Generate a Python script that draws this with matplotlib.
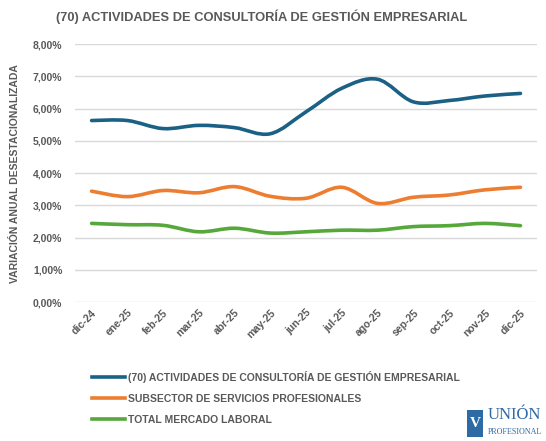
import numpy as np
import matplotlib
matplotlib.use("Agg")
import matplotlib.pyplot as plt
from matplotlib.path import Path
from matplotlib.patches import PathPatch, Rectangle
from matplotlib.lines import Line2D
from matplotlib.ticker import FuncFormatter

# datos
meses = ["dic-24", "ene-25", "feb-25", "mar-25", "abr-25", "may-25", "jun-25",
         "jul-25", "ago-25", "sep-25", "oct-25", "nov-25", "dic-25"]
consultoria = [5.63, 5.63, 5.38, 5.48, 5.41, 5.22, 5.90, 6.63, 6.91, 6.21, 6.25, 6.39, 6.47]
servicios = [3.44, 3.27, 3.46, 3.39, 3.58, 3.28, 3.22, 3.56, 3.06, 3.25, 3.32, 3.48, 3.56]
total = [2.44, 2.40, 2.38, 2.18, 2.29, 2.14, 2.18, 2.23, 2.23, 2.34, 2.37, 2.44, 2.37]

nombres = ["(70) ACTIVIDADES DE CONSULTORÍA DE GESTIÓN EMPRESARIAL",
           "SUBSECTOR DE SERVICIOS PROFESIONALES",
           "TOTAL MERCADO LABORAL"]
colores = ["#1B6185", "#ED7D31", "#56A83A"]

gris = "#595959"
plt.rcParams["font.family"] = ["Liberation Sans", "DejaVu Sans"]


def curva_suave(ax, xs, ys, color):
    # linea suavizada tipo Excel (bezier con tangentes catmull-rom)
    pts = np.column_stack([xs, ys]).astype(float)
    n = len(pts)
    verts = [pts[0]]
    codes = [Path.MOVETO]
    for i in range(n - 1):
        p0 = pts[i - 1] if i > 0 else pts[i]
        p1 = pts[i]
        p2 = pts[i + 1]
        p3 = pts[i + 2] if i + 2 < n else pts[i + 1]
        c1 = p1 + (p2 - p0) / 6.0
        c2 = p2 - (p3 - p1) / 6.0
        verts += [c1, c2, p2]
        codes += [Path.CURVE4] * 3
    patch = PathPatch(Path(verts, codes), facecolor="none", edgecolor=color,
                      lw=2.6, capstyle="round", joinstyle="round", zorder=3)
    ax.add_patch(patch)


fig = plt.figure(figsize=(5.46, 4.41), dpi=100)
ax = fig.add_axes([0.137, 0.315, 0.847, 0.585])

x = np.arange(len(meses))
for serie, col in zip([consultoria, servicios, total], colores):
    curva_suave(ax, x, serie, col)

ax.set_xlim(-0.47, len(meses) - 0.53)
ax.set_ylim(0, 8)
ax.set_yticks(np.arange(0, 9, 1))
ax.yaxis.set_major_formatter(FuncFormatter(lambda v, p: f"{v:.2f}%".replace(".", ",")))
ax.grid(axis="y", color="#D9D9D9", lw=1)
ax.set_axisbelow(True)
for s in ["top", "right", "left", "bottom"]:
    ax.spines[s].set_visible(False)
ax.tick_params(axis="both", length=0, colors=gris, labelsize=7.5)
ax.tick_params(axis="y", pad=9)
ax.tick_params(axis="x", pad=4)
ax.set_xticks(x)
ax.set_xticklabels(meses, rotation=45, ha="right", rotation_mode="anchor")
for lab in ax.get_xticklabels() + ax.get_yticklabels():
    lab.set_fontweight("bold")

ax.set_ylabel("VARIACIÓN ANUAL DESESTACIONALIZADA", fontsize=7.5, color=gris,
              fontweight="bold", labelpad=9)

fig.text(0.48, 0.962, "(70) ACTIVIDADES DE CONSULTORÍA DE GESTIÓN EMPRESARIAL",
         ha="center", va="center", fontsize=9.3, color=gris, fontweight="bold")

handles = [Line2D([], [], color=c, lw=2.6) for c in colores]
leg = fig.legend(handles, nombres, loc="upper left", bbox_to_anchor=(0.16, 0.168),
                 frameon=False, fontsize=7.5, handlelength=3.2, handletextpad=0.3,
                 labelspacing=1.05, borderaxespad=0)
for t in leg.get_texts():
    t.set_color(gris)
    t.set_fontweight("bold")

# logo
azul = "#2E6AA3"
fig.patches.append(Rectangle((0.855, 0.009), 0.030, 0.062, transform=fig.transFigure,
                             facecolor=azul, edgecolor="none"))
fig.text(0.870, 0.040, "V", fontsize=11, color="white", family="Liberation Serif",
         fontweight="bold", ha="center", va="center")
fig.text(0.893, 0.058, "UNIÓN", fontsize=12, color=azul, family="Liberation Serif",
         ha="left", va="center")
fig.text(0.893, 0.020, "PROFESIONAL", fontsize=5.8, color=azul, family="Liberation Serif",
         ha="left", va="center")

fig.savefig("out.png", dpi=100)
